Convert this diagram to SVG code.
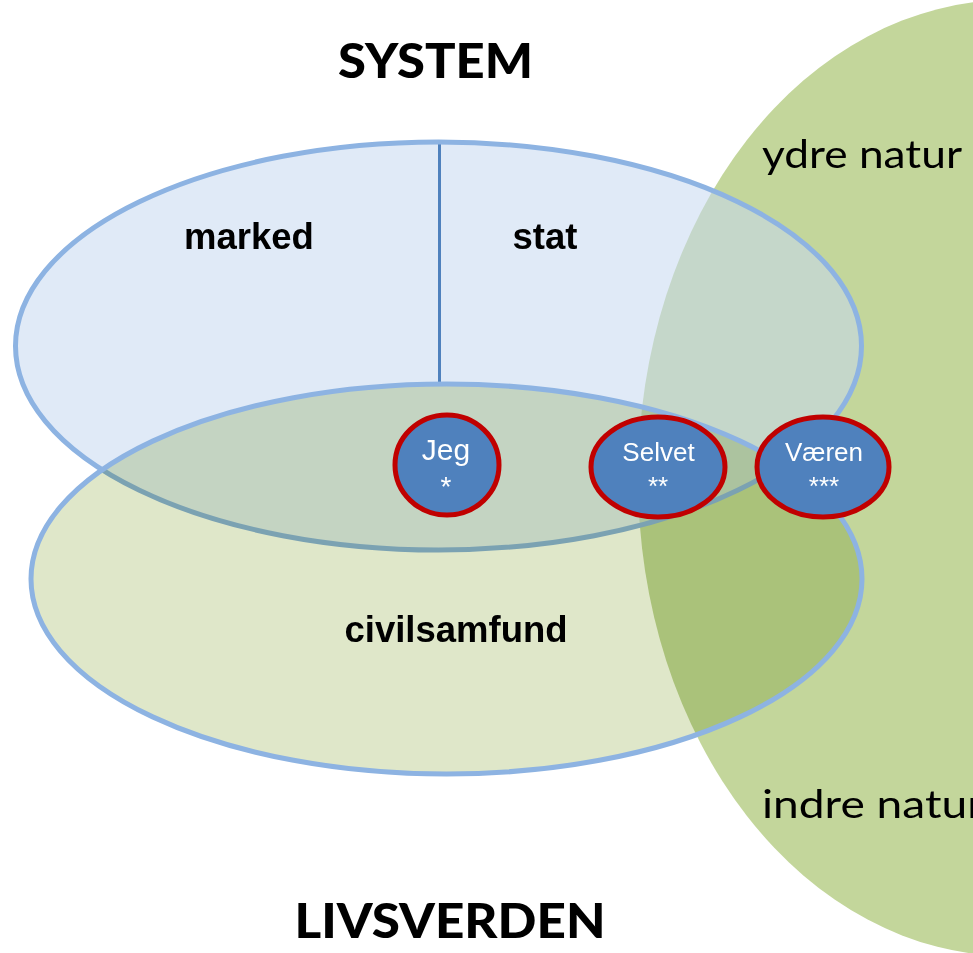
<svg xmlns="http://www.w3.org/2000/svg" width="973" height="953" viewBox="0 0 973 953">
<style>
.title{font-family:"Lato","Noto Sans","DejaVu Sans",sans-serif;font-weight:900;font-size:47px;fill:#000;text-anchor:middle}
.nat{font-family:"Lato","Noto Sans","DejaVu Sans",sans-serif;font-size:39px;fill:#000}
.lbl{font-family:"Liberation Sans",Arial,sans-serif;font-weight:bold;font-size:36.5px;fill:#000;text-anchor:middle}
.node ellipse{fill:#4f81bd;stroke:#c00000;stroke-width:5}
.node text{font-family:"Liberation Sans",Arial,sans-serif;fill:#fff;text-anchor:middle}
.ring{fill:none;stroke:#8db3e2;stroke-width:5}
</style>
<rect width="973" height="953" fill="#fff"/>
<g id="natur">
<ellipse cx="1010" cy="478" rx="372" ry="478" fill="#c3d69b"/>
<text class="nat" x="762" y="168" textLength="200" lengthAdjust="spacingAndGlyphs">ydre natur</text>
<text class="nat" x="762" y="818" textLength="222" lengthAdjust="spacingAndGlyphs">indre natur</text>
</g>
<g id="system">
<ellipse cx="438.5" cy="346" rx="423" ry="204" fill="#c6d9f1" fill-opacity="0.55"/>
<line x1="439.5" y1="143" x2="439.5" y2="384" stroke="#4f81bd" stroke-width="3"/>
<ellipse class="ring" cx="438.5" cy="346" rx="423" ry="204"/>
<text class="lbl" x="249" y="249">marked</text>
<text class="lbl" x="545" y="249">stat</text>
</g>
<g id="civilsamfund">
<ellipse cx="446.5" cy="579" rx="415.5" ry="195" fill="#dfe7c9" style="mix-blend-mode:multiply"/>
<ellipse class="ring" cx="446.5" cy="579" rx="415.5" ry="195"/>
<text class="lbl" x="456" y="642">civilsamfund</text>
</g>
<g id="titles">
<text class="title" x="435.5" y="78" textLength="195" lengthAdjust="spacingAndGlyphs">SYSTEM</text>
<text class="title" x="450" y="938" textLength="311" lengthAdjust="spacingAndGlyphs">LIVSVERDEN</text>
</g>
<g id="connectors"></g>
<g id="jeg" class="node">
<ellipse cx="447" cy="465" rx="52" ry="50"/>
<text x="446" y="460" font-size="30">Jeg</text>
<text x="446" y="496" font-size="28">*</text>
</g>
<g id="selvet" class="node">
<ellipse cx="658" cy="467" rx="67" ry="50"/>
<text x="658.5" y="461" font-size="26">Selvet</text>
<text x="658" y="495" font-size="26">**</text>
</g>
<g id="vaeren" class="node">
<ellipse cx="823" cy="467" rx="66" ry="50"/>
<text x="824" y="461" font-size="26">Væren</text>
<text x="824" y="495" font-size="26">***</text>
</g>
</svg>
